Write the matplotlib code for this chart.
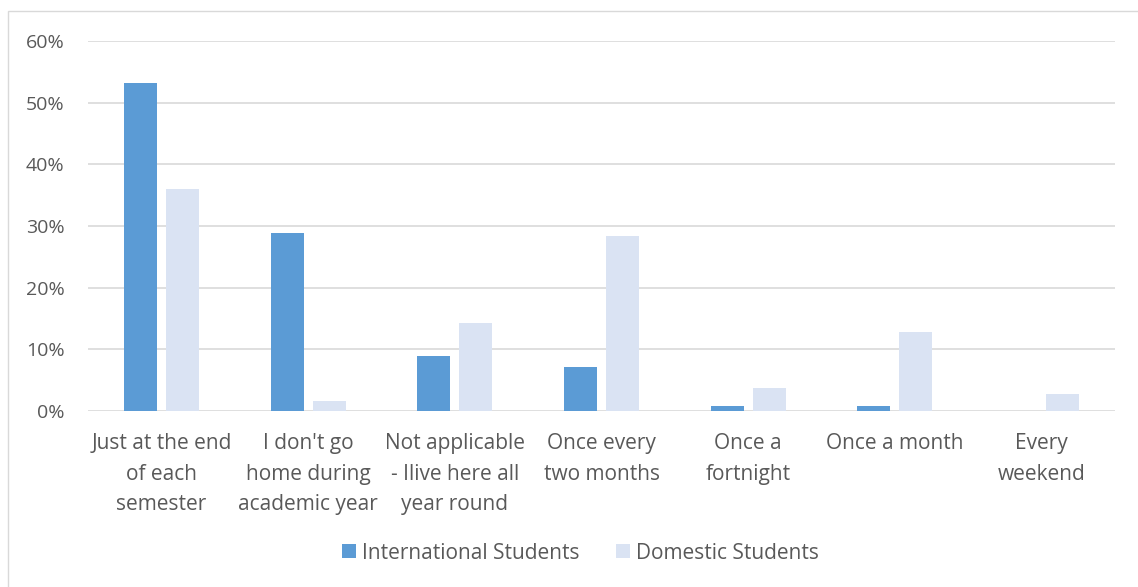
import matplotlib.pyplot as plt
import numpy as np
from matplotlib.patches import Rectangle
from matplotlib.ticker import FuncFormatter

categories = ["Just at the end\nof each\nsemester",
              "I don't go\nhome during\nacademic year",
              "Not applicable\n- Ilive here all\nyear round",
              "Once every\ntwo months",
              "Once a\nfortnight",
              "Once a month",
              "Every\nweekend"]
international = [53.2, 28.8, 8.9, 7.1, 0.8, 0.8, 0.0]
domestic = [36.0, 1.7, 14.2, 28.4, 3.8, 12.8, 2.8]
series_names = ["International Students", "Domestic Students"]

plt.rcParams['font.family'] = ['Open Sans', 'DejaVu Sans']
text_col = '#595959'

fig = plt.figure(figsize=(11.38, 5.87), dpi=100)
ax = fig.add_axes([88 / 1138, 176 / 587, 1027 / 1138, 370 / 587])

# cadre du graphique
fig.patches.append(Rectangle((8 / 1138, -0.01), 1.1, 0.992, transform=fig.transFigure,
                             fill=False, edgecolor='#D9D9D9', linewidth=1))

x = np.arange(len(categories))
w = 0.225
ax.bar(x - 0.143, international, w, color='#5B9BD5', label=series_names[0], zorder=3)
ax.bar(x + 0.143, domestic, w, color='#DAE3F3', label=series_names[1], zorder=3)

ax.set_xlim(-0.5, len(categories) - 0.5)
ax.set_ylim(0, 60)
ax.set_yticks(np.arange(0, 61, 10))
ax.yaxis.set_major_formatter(FuncFormatter(lambda v, p: f'{v:.0f}%'))
ax.grid(axis='y', color='#D9D9D9', linewidth=1.2, zorder=0)
ax.set_axisbelow(True)
for s in ax.spines.values():
    s.set_visible(False)
ax.tick_params(axis='both', length=0, colors=text_col)
ax.tick_params(axis='y', pad=17, labelsize=14)
ax.tick_params(axis='x', pad=16)
ax.set_xticks(x)
ax.set_xticklabels(categories, fontsize=15, linespacing=1.6, va='top')

ax.legend(loc='center', bbox_to_anchor=(0.4796, -0.384), ncol=2, frameon=False,
          fontsize=15, labelcolor=text_col, handlelength=0.65, handleheight=0.65,
          handletextpad=0.3, columnspacing=1.77)

fig.savefig('out.png', dpi=100)
